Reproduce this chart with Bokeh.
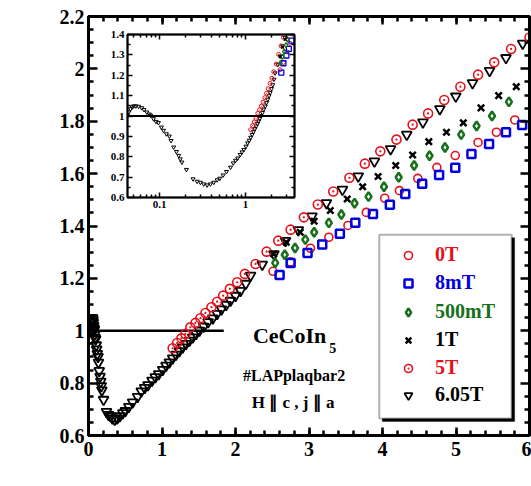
from bokeh.plotting import figure
from bokeh.models import (Range1d, LinearAxis, LogAxis, SingleIntervalTicker, FixedTicker,
                          CustomJSTickFormatter, Label, Legend,
                          LegendItem, BoxAnnotation, Span)
from bokeh.layouts import column
from bokeh.embed import file_html
from bokeh.resources import INLINE

# ---------------- data ----------------
T_605 = [0.042, 0.044, 0.046, 0.048, 0.050, 0.053, 0.057, 0.062, 0.066, 0.071,
         0.076, 0.079, 0.085, 0.091, 0.097, 0.105, 0.111, 0.120, 0.130, 0.136,
         0.146, 0.157, 0.167, 0.174, 0.182, 0.205, 0.245, 0.273, 0.298, 0.326,
         0.357, 0.390, 0.427, 0.467, 0.502, 0.548, 0.600, 0.668,
         0.718, 0.764, 0.809, 0.864, 0.909, 0.955, 1.009, 1.055, 1.100, 1.145,
         1.191, 1.236, 1.282, 1.327, 1.373, 1.418, 1.464, 1.509, 1.568, 1.627,
         1.691, 1.750, 1.809, 1.873, 1.932, 2.000, 2.068, 2.140, 2.205, 2.364,
         2.523, 2.680, 2.855, 3.040, 3.237, 3.455, 3.670, 3.890, 4.110, 4.330,
         4.550, 4.780, 4.997, 5.225, 5.457, 5.680, 5.907]
L_605 = [1.003, 1.019, 1.035, 1.044, 1.049, 1.049, 1.047, 1.040, 1.031, 1.019,
         1.009, 1.003, 0.986, 0.973, 0.967, 0.945, 0.929, 0.912, 0.901, 0.879,
         0.847, 0.825, 0.806, 0.789, 0.773, 0.737, 0.691, 0.679, 0.674, 0.666,
         0.661, 0.666, 0.674, 0.686, 0.694, 0.710, 0.727, 0.748,
         0.769, 0.782, 0.793, 0.810, 0.823, 0.835, 0.851, 0.867, 0.880, 0.895,
         0.909, 0.923, 0.937, 0.950, 0.963, 0.975, 0.988, 1.001, 1.016, 1.033,
         1.048, 1.065, 1.082, 1.099, 1.115, 1.134, 1.153, 1.180, 1.211, 1.253,
         1.293, 1.344, 1.385, 1.437, 1.488, 1.539, 1.590, 1.647, 1.694, 1.749,
         1.796, 1.847, 1.895, 1.946, 1.993, 2.042, 2.097]

T_5T = [1.145, 1.205, 1.264, 1.318, 1.386, 1.455, 1.523, 1.591, 1.673, 1.750,
        1.832, 1.923, 2.023, 2.127, 2.273, 2.423, 2.582, 2.75, 2.93, 3.12,
        3.33, 3.55, 3.76, 3.97, 4.19, 4.41, 4.62, 4.84, 5.06, 5.30, 5.52, 5.75, 6.00]
L_5T = [0.933, 0.953, 0.971, 0.988, 1.013, 1.030, 1.048, 1.068, 1.090, 1.111,
        1.134, 1.160, 1.185, 1.217, 1.255, 1.302, 1.344, 1.386, 1.433, 1.482,
        1.532, 1.584, 1.638, 1.685, 1.730, 1.787, 1.830, 1.881, 1.932, 1.978,
        2.025, 2.076, 2.120]

T_0T = [2.51, 2.75, 3.02, 3.27, 3.53, 3.78, 4.03, 4.23, 4.48, 4.74, 4.99, 5.30, 5.55, 5.80]
L_0T = [1.227, 1.263, 1.315, 1.357, 1.402, 1.452, 1.506, 1.535, 1.582, 1.624,
        1.669, 1.719, 1.758, 1.805]

T_8mT = [2.60, 2.75, 2.98, 3.18, 3.42, 3.63, 3.87, 4.10, 4.31, 4.54, 4.77, 4.99,
         5.21, 5.45, 5.68, 5.90]
L_8mT = [1.213, 1.259, 1.297, 1.329, 1.370, 1.412, 1.446, 1.481, 1.522, 1.561,
         1.595, 1.622, 1.675, 1.713, 1.758, 1.786]

T_500mT = [2.54, 2.67, 2.81, 2.95, 3.07, 3.27, 3.44, 3.62, 3.81, 4.02, 4.22, 4.43,
           4.64, 4.85, 5.07, 5.28, 5.49, 5.72]
L_500mT = [1.259, 1.290, 1.316, 1.348, 1.376, 1.412, 1.444, 1.487, 1.512, 1.550,
           1.586, 1.631, 1.668, 1.700, 1.749, 1.782, 1.820, 1.874]

T_1T = [2.52, 2.69, 2.88, 3.07, 3.29, 3.52, 3.73, 3.94, 4.18, 4.41, 4.63, 4.87,
        5.10, 5.34, 5.58, 5.82]
L_1T = [1.293, 1.338, 1.376, 1.418, 1.459, 1.503, 1.550, 1.589, 1.631, 1.671,
        1.722, 1.758, 1.794, 1.851, 1.898, 1.932]

legend_labels = ["0T", "8mT", "500mT", "1T", "5T", "6.05T"]
ref_line_T = [0.0, 1.84]
ref_line_L = [1.0, 1.0]

main_y_ticks = [0.6, 0.8, 1.0, 1.2, 1.4, 1.6, 1.8, 2.0, 2.2]
inset_y_ticks = [0.6, 0.7, 0.8, 0.9, 1.0, 1.1, 1.2, 1.3, 1.4]
inset_x_ticks = [0.1, 1.0]
inset_x_minor = [0.05, 0.06, 0.07, 0.08, 0.09, 0.2, 0.3, 0.4, 0.5, 0.6, 0.7, 0.8, 0.9,
                 2.0, 3.0]

# ---------------- style ----------------
FONT = "Liberation Serif"
RED = "#e4111b"
BLUE = "#0000e0"
GREEN = "#17711a"
BLACK = "#000000"

NUM_FMT = "return String(Math.round(tick * 1000) / 1000);"

BORDER_L = 88   # shared left border (column aligns plot frames)
BORDER_R = 2


def minor_between(ticks, n):
    out = []
    for a, b in zip(ticks[:-1], ticks[1:]):
        for k in range(1, n):
            out.append(a + (b - a) * k / n)
    return out


def style_axis(ax, major_in, minor_in, width, size, standoff, labels=True):
    ax.major_tick_in = major_in
    ax.major_tick_out = 0
    ax.minor_tick_in = minor_in
    ax.minor_tick_out = 0
    ax.major_tick_line_width = width
    ax.minor_tick_line_width = width
    ax.major_tick_line_color = BLACK
    ax.minor_tick_line_color = BLACK
    ax.axis_line_width = width
    ax.axis_line_color = BLACK
    ax.major_label_text_font = FONT
    ax.major_label_text_font_style = "bold"
    ax.major_label_text_font_size = size
    ax.major_label_text_color = BLACK
    ax.major_label_standoff = standoff
    if labels:
        ax.formatter = CustomJSTickFormatter(code=NUM_FMT)
    else:
        ax.major_label_text_font_size = "0px"
        ax.major_label_text_alpha = 0


# ---------------- main figure ----------------
p = figure(width=531, height=486, x_range=Range1d(0, 6), y_range=Range1d(0.6, 2.2),
           output_backend="svg", toolbar_location=None,
           min_border_left=BORDER_L, min_border_right=BORDER_R,
           min_border_top=16, min_border_bottom=51)
p.grid.visible = False
p.outline_line_color = BLACK
p.outline_line_width = 3
p.background_fill_color = "white"
p.border_fill_color = "white"

main_y_minor = minor_between(main_y_ticks, 4)

xa = p.xaxis[0]
xa.ticker = SingleIntervalTicker(interval=1, num_minor_ticks=5)
style_axis(xa, 8, 5, 2.5, "20px", 6)
ya = p.yaxis[0]
ya.ticker = FixedTicker(ticks=main_y_ticks, minor_ticks=main_y_minor)
style_axis(ya, 9, 5, 2.5, "20px", 4)

xt = LinearAxis(ticker=SingleIntervalTicker(interval=1, num_minor_ticks=5))
style_axis(xt, 8, 5, 2.5, "1px", 0, labels=False)
p.add_layout(xt, "above")
yr = LinearAxis(ticker=FixedTicker(ticks=main_y_ticks, minor_ticks=main_y_minor))
style_axis(yr, 9, 5, 2.5, "1px", 0, labels=False)
p.add_layout(yr, "right")

p.line(ref_line_T, ref_line_L, line_color=BLACK, line_width=2.5)

r605 = p.scatter(T_605, L_605, marker="inverted_triangle", size=10, fill_color=None,
                 line_color=BLACK, line_width=1.8)
r5 = p.scatter(T_5T, L_5T, marker="circle_dot", size=9, fill_color=None,
               line_color=RED, line_width=1.6)
r0 = p.scatter(T_0T, L_0T, marker="circle", size=8, fill_color=None,
               line_color=RED, line_width=1.6)
r8 = p.scatter(T_8mT, L_8mT, marker="square", size=8, fill_color=None,
               line_color=BLUE, line_width=2.5)
r500 = p.scatter(T_500mT, L_500mT, marker="diamond", size=9, fill_color=None,
                 line_color=GREEN, line_width=2.5)
r1 = p.scatter(T_1T, L_1T, marker="x", size=9, line_color=BLACK, line_width=2.5)

# axis titles and annotations
p.add_layout(Label(x=-0.859, y=1.89, text="L/L", angle=90, angle_units="deg",
                   text_font=FONT, text_font_style="bold", text_font_size="21px",
                   text_color=BLACK, text_align="left", text_baseline="alphabetic"))
p.add_layout(Label(x=-0.628, y=2.031, text="0", angle=90, angle_units="deg",
                   text_font=FONT, text_font_style="bold", text_font_size="14px",
                   text_color=BLACK, text_align="left", text_baseline="alphabetic"))
p.add_layout(Label(x=5.143, y=0.456, text="T(K)", text_font=FONT,
                   text_font_style="bold", text_font_size="21px", text_color=BLACK,
                   text_align="left", text_baseline="alphabetic"))
p.add_layout(Label(x=2.237, y=0.982, text="CeCoIn", text_font=FONT,
                   text_font_style="bold", text_font_size="22px", text_color=BLACK,
                   text_align="left", text_baseline="alphabetic"))
p.add_layout(Label(x=3.274, y=0.936, text="5", text_font=FONT,
                   text_font_style="bold", text_font_size="14px", text_color=BLACK,
                   text_align="left", text_baseline="alphabetic"))
p.add_layout(Label(x=2.797, y=0.829, text="#LAPplaqbar2", text_font=FONT,
                   text_font_style="bold", text_font_size="16px", text_color=BLACK,
                   text_align="center", text_baseline="alphabetic"))
p.add_layout(Label(x=2.783, y=0.726, text="H \u2225 c , j \u2225 a", text_font=FONT,
                   text_font_style="bold", text_font_size="17px", text_color=BLACK,
                   text_align="center", text_baseline="alphabetic"))

# legend box with shadow
p.add_layout(BoxAnnotation(left=3.997, right=5.798, bottom=0.6535, top=1.3555,
                           fill_color=BLACK, fill_alpha=1, line_color=BLACK,
                           line_width=1, level="overlay"))
p.add_layout(BoxAnnotation(left=3.956, right=5.757, bottom=0.665, top=1.367,
                           fill_color="white", fill_alpha=1, line_color=BLACK,
                           line_width=2, level="overlay"))

legend_renderers = [r0, r8, r500, r1, r5, r605]
legend_colors = [RED, BLUE, GREEN, BLACK, RED, BLACK]
row_centers = [180, 152, 123, 95, 67, 40]
for lab, rr, col, yc in zip(legend_labels, legend_renderers, legend_colors, row_centers):
    lg = Legend(items=[LegendItem(label=lab, renderers=[rr])], location=(310, yc - 11),
                padding=0, margin=0, spacing=0, border_line_color=None,
                background_fill_alpha=0, glyph_width=20, glyph_height=22,
                label_height=22, label_standoff=17, label_text_font=FONT,
                label_text_font_style="bold", label_text_font_size="20px",
                label_text_color=col, label_text_baseline="middle")
    p.add_layout(lg, "center")

# ---------------- inset ----------------
INSET_FRAME_W = 167
INSET_FRAME_H = 163
INSET_TOP = 9
ins = figure(width=BORDER_L + INSET_FRAME_W + BORDER_R,
             height=INSET_TOP + INSET_FRAME_H + 19,
             x_axis_type="log",
             x_range=Range1d(0.0424, 3.7), y_range=Range1d(0.6, 1.4),
             output_backend="svg", toolbar_location=None,
             min_border_left=BORDER_L, min_border_right=BORDER_R,
             min_border_top=INSET_TOP, min_border_bottom=19)
ins.grid.visible = False
ins.background_fill_color = "white"
ins.border_fill_color = None
ins.outline_line_color = BLACK
ins.outline_line_width = 2

inset_y_minor = minor_between(inset_y_ticks, 2)

ixa = ins.xaxis[0]
ixa.ticker = FixedTicker(ticks=inset_x_ticks, minor_ticks=inset_x_minor)
style_axis(ixa, 5, 3, 1.5, "11px", 3)
iya = ins.yaxis[0]
iya.ticker = FixedTicker(ticks=inset_y_ticks, minor_ticks=inset_y_minor)
style_axis(iya, 5, 3, 1.5, "11px", 3)
ixt = LogAxis(ticker=FixedTicker(ticks=inset_x_ticks, minor_ticks=inset_x_minor))
style_axis(ixt, 5, 3, 1.5, "1px", 0, labels=False)
ins.add_layout(ixt, "above")
iyr = LinearAxis(ticker=FixedTicker(ticks=inset_y_ticks, minor_ticks=inset_y_minor))
style_axis(iyr, 5, 3, 1.5, "1px", 0, labels=False)
ins.add_layout(iyr, "right")

ins.add_layout(Span(location=1.0, dimension="width", line_color=BLACK, line_width=2))
ins.scatter(T_605, L_605, marker="inverted_triangle", size=4, fill_color=None,
            line_color=BLACK, line_width=1)
ins.scatter(T_5T, L_5T, marker="circle_dot", size=4, fill_color=None,
            line_color=RED, line_width=1)
ins.scatter(T_0T, L_0T, marker="circle", size=4, fill_color=None,
            line_color=RED, line_width=1)
ins.scatter(T_8mT, L_8mT, marker="square", size=5, fill_color=None,
            line_color=BLUE, line_width=1.3)
ins.scatter(T_500mT, L_500mT, marker="diamond", size=5, fill_color=None,
            line_color=GREEN, line_width=1.3)
ins.scatter(T_1T, L_1T, marker="x", size=4, line_color=BLACK, line_width=1.3)

# inset frame at page x = 127, y = 34
ins.styles = {"position": "absolute", "left": "%dpx" % (127 - BORDER_L),
              "top": "%dpx" % (34 - INSET_TOP), "z-index": "5"}

layout = column(p, ins)

open("out.html", "w").write(file_html(layout, INLINE))
